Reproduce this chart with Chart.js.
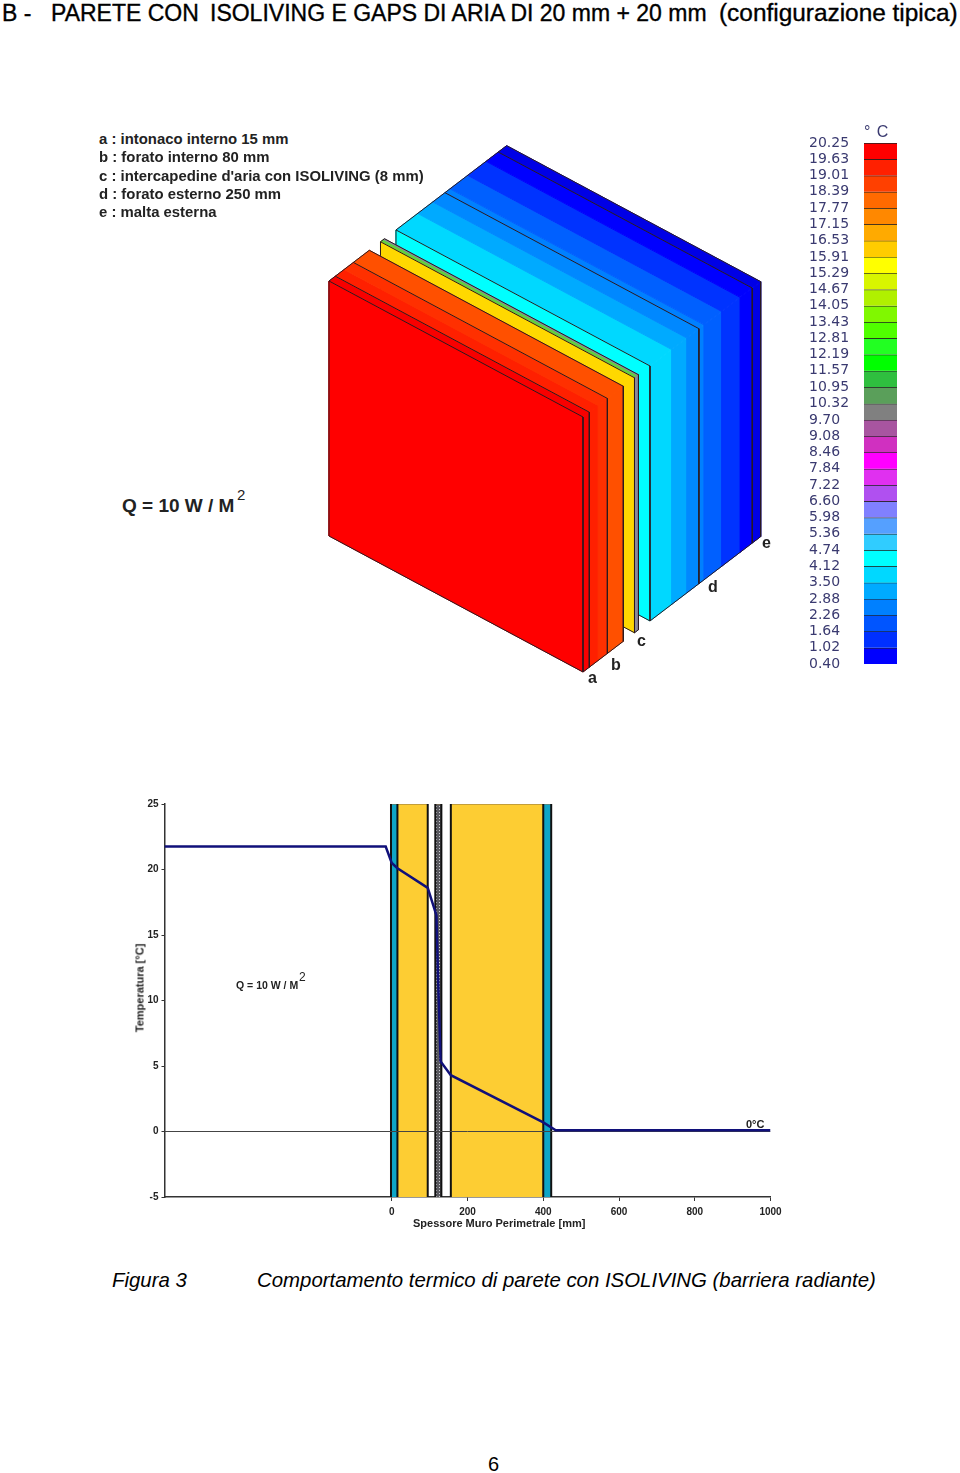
<!DOCTYPE html>
<html>
<head>
<meta charset="utf-8">
<title>Comportamento termico</title>
<script src="https://cdn.jsdelivr.net/npm/chart.js@4/dist/chart.umd.min.js"></script>
<style>
  html, body { margin: 0; padding: 0; background: #fff; }
  #page { position: relative; width: 960px; height: 1473px; overflow: hidden; font-family: "Liberation Sans", Arial, sans-serif; color: #000; }
  #page canvas { position: absolute; }
  #page div { position: absolute; white-space: pre; line-height: 1; }
  #page .head { top: 2px; font-size: 23px; -webkit-text-stroke: 0.35px #000; }
  .key { font-size: 14.9px; font-weight: bold; color: #222; left: 99px; }
  .tag { font-size: 16px; font-weight: bold; color: #222; }
  .small { font-size: 10.5px; font-weight: bold; color: #222; }
</style>
</head>
<body>
<div id="page">
  <div class="head" style="left:2px">B -</div>
  <div class="head" style="left:51px">PARETE CON</div>
  <div class="head" style="left:210px">ISOLIVING E GAPS DI ARIA DI 20 mm + 20 mm</div>
  <div class="head" style="left:719px;font-size:24.4px;top:1px">(configurazione tipica)</div>

  <canvas id="block" width="450" height="550" style="left:320px;top:130px"></canvas>
  <canvas id="scale" width="88" height="546" style="left:809px;top:130px"></canvas>
  <canvas id="profile" width="680" height="450" style="left:120px;top:790px"></canvas>

  <div class="key" style="top:132px">a : intonaco interno 15 mm</div>
  <div class="key" style="top:150px">b : forato interno 80 mm</div>
  <div class="key" style="top:169px">c : intercapedine d'aria con ISOLIVING (8 mm)</div>
  <div class="key" style="top:187px">d : forato esterno 250 mm</div>
  <div class="key" style="top:205px">e : malta esterna</div>

  <div style="left:122px;top:496px;font-size:19px;font-weight:bold;color:#222">Q = 10 W / M</div>
  <div style="left:237px;top:487px;font-size:15px;color:#222">2</div>

  <div class="tag" style="left:588px;top:670px">a</div>
  <div class="tag" style="left:611px;top:657px">b</div>
  <div class="tag" style="left:637px;top:633px">c</div>
  <div class="tag" style="left:708px;top:579px">d</div>
  <div class="tag" style="left:762px;top:535px">e</div>

  <div style="left:864px;top:124px;font-size:16px;letter-spacing:1px;color:#3a3a70">° C</div>

  <div class="small" style="left:236px;top:980px">Q = 10 W / M</div>
  <div class="small" style="left:299px;top:971px;font-size:12px;font-weight:normal">2</div>
  <div class="small" style="left:746px;top:1119px;font-size:11px">0°C</div>
  <div class="small" style="left:413px;top:1218px;font-size:11px">Spessore Muro Perimetrale [mm]</div>
  <div class="small" style="left:140px;top:988px;transform:translate(-50%,-50%) rotate(-90deg);font-size:11px">Temperatura [°C]</div>

  <div style="left:112px;top:1270px;font-size:20.4px;font-style:italic">Figura 3</div>
  <div style="left:257px;top:1270px;font-size:20.4px;font-style:italic">Comportamento termico di parete con ISOLIVING (barriera radiante)</div>
  <div style="left:488px;top:1454px;font-size:20px">6</div>
</div>

<script>
// profilo di temperatura
var profileX = [-600, -16, 0, 15, 95, 118, 122, 129, 156, 400, 433, 1000];
var profileT = [21.75, 21.75, 20.5, 20.1, 18.6, 16.5, 12, 5.35, 4.3, 0.7, 0.1, 0.1];
var layerStart = [0, 15, 115, 156, 400];
var layerEnd = [15, 95, 131, 400, 421];
var layerEdges = [-2, 15, 95, 115, 131, 156, 400, 421];
var xTicks = [0, 200, 400, 600, 800, 1000];
var yTicks = [-5, 0, 5, 10, 15, 20, 25];

// scala colori
var scaleLabels = [20.25, 19.63, 19.01, 18.39, 17.77, 17.15, 16.53, 15.91, 15.29, 14.67, 14.05, 13.43, 12.81, 12.19, 11.57, 10.95, 10.32, 9.70, 9.08, 8.46, 7.84, 7.22, 6.60, 5.98, 5.36, 4.74, 4.12, 3.50, 2.88, 2.26, 1.64, 1.02, 0.40];
var scaleColors = ["#ff0000", "#ff2000", "#ff4000", "#ff6a00", "#ff8800", "#ffaa00", "#ffcc00", "#ffff00", "#d8f500", "#b0f000", "#80f800", "#50ff00", "#22ff22", "#00ff00", "#2fbf3f", "#5a9f5a", "#808080", "#a855a0", "#d030c0", "#ff00ff", "#e030f0", "#b050f0", "#8080ff", "#55a0ff", "#30ccff", "#00ffff", "#00d8ff", "#00aaff", "#0080ff", "#0055ff", "#0030ff", "#0000ff"];

// blocco 3D: spessori in mm lungo la parete
var innerDepths = [0, 15, 36, 58, 96];
var innerColors = ["#f80000", "#ff2000", "#ff3000", "#ff5000"];
var innerLines = [15, 58];
var plateDepths = [122.6, 130, 132.1];
var plateColors = ["#60d040", "#8a8a9a"];
var outerDepths = [159.5, 211, 247, 276, 288, 330, 374, 403, 423];
var outerColors = ["#00d8ff", "#00aaff", "#0088ff", "#0080ff", "#0060ff", "#0033ff", "#0000ff", "#0000e6"];
var outerLines = [276, 403];
var lineColor = "#2a1a20";

// proiezione assonometrica sugli assi del grafico
function project(depth, along, down) {
  return {
    x: 583 + depth * 0.42 - along * 254,
    y: 417 - depth * 0.32 - along * 136 + down * 255,
  };
}

function face(points, color) {
  return {
    showLine: true,
    data: points.concat([points[0]]),
    borderColor: color,
    borderWidth: 1,
    backgroundColor: color,
    fill: "shape",
    pointRadius: 0,
  };
}

function edge(points) {
  return {
    showLine: true,
    data: points,
    borderColor: lineColor,
    borderWidth: 1,
    pointRadius: 0,
    fill: false,
  };
}

// una lastra: fasce sopra e sul lato, faccia frontale, poi le linee
function slab(depths, colors, frontColor, sideColor, lines) {
  var out = [];
  colors.forEach(function (c, i) {
    var a = depths[i], b = depths[i + 1];
    out.push(face([project(a, 0, 0), project(b, 0, 0), project(b, 1, 0), project(a, 1, 0)], c));
    out.push(face([project(a, 0, 0), project(b, 0, 0), project(b, 0, 1), project(a, 0, 1)], sideColor || c));
  });
  var d0 = depths[0], d1 = depths[depths.length - 1];
  out.push(face([project(d0, 0, 0), project(d0, 1, 0), project(d0, 1, 1), project(d0, 0, 1)], frontColor));
  lines.forEach(function (d) {
    out.push(edge([project(d, 1, 0), project(d, 0, 0), project(d, 0, 1)]));
  });
  out.push(edge([project(d0, 1, 0), project(d1, 1, 0), project(d1, 0, 0), project(d1, 0, 1), project(d0, 0, 1)]));
  out.push(edge([project(d0, 1, 1), project(d0, 1, 0), project(d0, 0, 0), project(d0, 0, 1), project(d0, 1, 1)]));
  return out;
}

var blockSets = [].concat(
  slab(outerDepths, outerColors, "#00ffff", null, outerLines),
  slab(plateDepths, plateColors, "#ffd800", "#8a8a9a", []),
  slab(innerDepths, innerColors, "#ff0000", null, innerLines)
);

new Chart(document.getElementById("block").getContext("2d"), {
  type: "scatter",
  data: { datasets: blockSets.reverse() },
  options: {
    responsive: false,
    animation: false,
    plugins: { legend: { display: false }, tooltip: { enabled: false } },
    scales: {
      x: { type: "linear", min: 320, max: 770, display: false },
      y: { type: "linear", min: 130, max: 680, reverse: true, display: false },
    },
  },
});

// barra della scala colori
var scaleSets = scaleColors.map(function (c, i) {
  return {
    data: [[scaleLabels[i + 1], scaleLabels[i]]],
    backgroundColor: c,
    borderColor: "#222",
    borderWidth: { top: 1 },
    borderSkipped: false,
    grouped: false,
    barPercentage: 1,
    categoryPercentage: 1,
  };
});

new Chart(document.getElementById("scale").getContext("2d"), {
  type: "bar",
  data: { labels: [""], datasets: scaleSets },
  options: {
    responsive: false,
    animation: false,
    layout: { padding: { top: 13, bottom: 12 } },
    plugins: { legend: { display: false }, tooltip: { enabled: false } },
    scales: {
      x: { display: false },
      y: {
        min: 0.4,
        max: 20.25,
        grid: { display: false },
        border: { display: false },
        afterBuildTicks: function (axis) {
          axis.ticks = scaleLabels.map(function (v) { return { value: v }; });
        },
        afterFit: function (axis) {
          axis.width = 55;
          axis.paddingTop = 0;
          axis.paddingBottom = 0;
        },
        ticks: {
          autoSkip: false,
          crossAlign: "far",
          color: "#3a3a70",
          font: { family: "DejaVu Sans", size: 14 },
          callback: function (v) { return v.toFixed(2); },
        },
      },
    },
  },
});

// grafico temperatura
var profilePts = profileX.map(function (x, i) { return { x: x, y: profileT[i] }; });

var patternCanvas = document.createElement("canvas");
patternCanvas.width = 3;
patternCanvas.height = 3;
var pctx = patternCanvas.getContext("2d");
pctx.fillStyle = "#5a5a60";
pctx.fillRect(0, 0, 3, 3);
pctx.fillStyle = "#d0d0d8";
pctx.fillRect(1, 1, 1, 1);
var stipple = pctx.createPattern(patternCanvas, "repeat");

var layerColors = ["#0ea5c6", "#fdcd33", stipple, "#fdcd33", "#0ea5c6"];

var profileSets = [
  {
    label: "Temperatura",
    showLine: true,
    data: profilePts,
    borderColor: "#10107a",
    borderWidth: 2.5,
    pointRadius: 0,
  },
  {
    showLine: true,
    data: [{ x: -600, y: 0 }, { x: 1000, y: 0 }],
    borderColor: "#444",
    borderWidth: 1,
    pointRadius: 0,
  },
];
layerEdges.forEach(function (x) {
  profileSets.push({
    showLine: true,
    data: [{ x: x, y: -5 }, { x: x, y: 25 }],
    borderColor: "#111",
    borderWidth: 2,
    pointRadius: 0,
  });
});
layerStart.forEach(function (s, i) {
  profileSets.push({
    showLine: true,
    data: [{ x: s, y: 25 }, { x: layerEnd[i], y: 25 }],
    borderColor: "#8a7040",
    borderWidth: 1,
    backgroundColor: layerColors[i],
    fill: { value: -5 },
    pointRadius: 0,
  });
});

new Chart(document.getElementById("profile").getContext("2d"), {
  type: "scatter",
  data: { datasets: profileSets },
  options: {
    responsive: false,
    animation: false,
    layout: { padding: { left: 4.5, top: 14, right: 29.5, bottom: 18 } },
    plugins: { legend: { display: false }, tooltip: { enabled: false } },
    scales: {
      x: {
        type: "linear",
        min: -600,
        max: 1000,
        border: { color: "#333", width: 1.5 },
        grid: { drawOnChartArea: false, color: "#333", tickLength: 4 },
        afterBuildTicks: function (axis) {
          axis.ticks = xTicks.map(function (v) { return { value: v }; });
        },
        afterFit: function (axis) {
          axis.height = 25;
          axis.paddingLeft = 0;
          axis.paddingRight = 0;
        },
        ticks: {
          autoSkip: false,
          maxRotation: 0,
          color: "#222",
          padding: 5,
          font: { family: "Liberation Sans", size: 10, weight: "bold" },
          callback: function (v) { return String(v); },
        },
      },
      y: {
        type: "linear",
        min: -5,
        max: 25,
        border: { color: "#333", width: 1.5 },
        grid: { drawOnChartArea: false, color: "#333", tickLength: 3 },
        afterBuildTicks: function (axis) {
          axis.ticks = yTicks.map(function (v) { return { value: v }; });
        },
        afterFit: function (axis) {
          axis.width = 40;
          axis.paddingTop = 0;
          axis.paddingBottom = 0;
        },
        ticks: { autoSkip: false, color: "#222", padding: 3, font: { family: "Liberation Sans", size: 10, weight: "bold" } },
      },
    },
  },
});
</script>
</body>
</html>
